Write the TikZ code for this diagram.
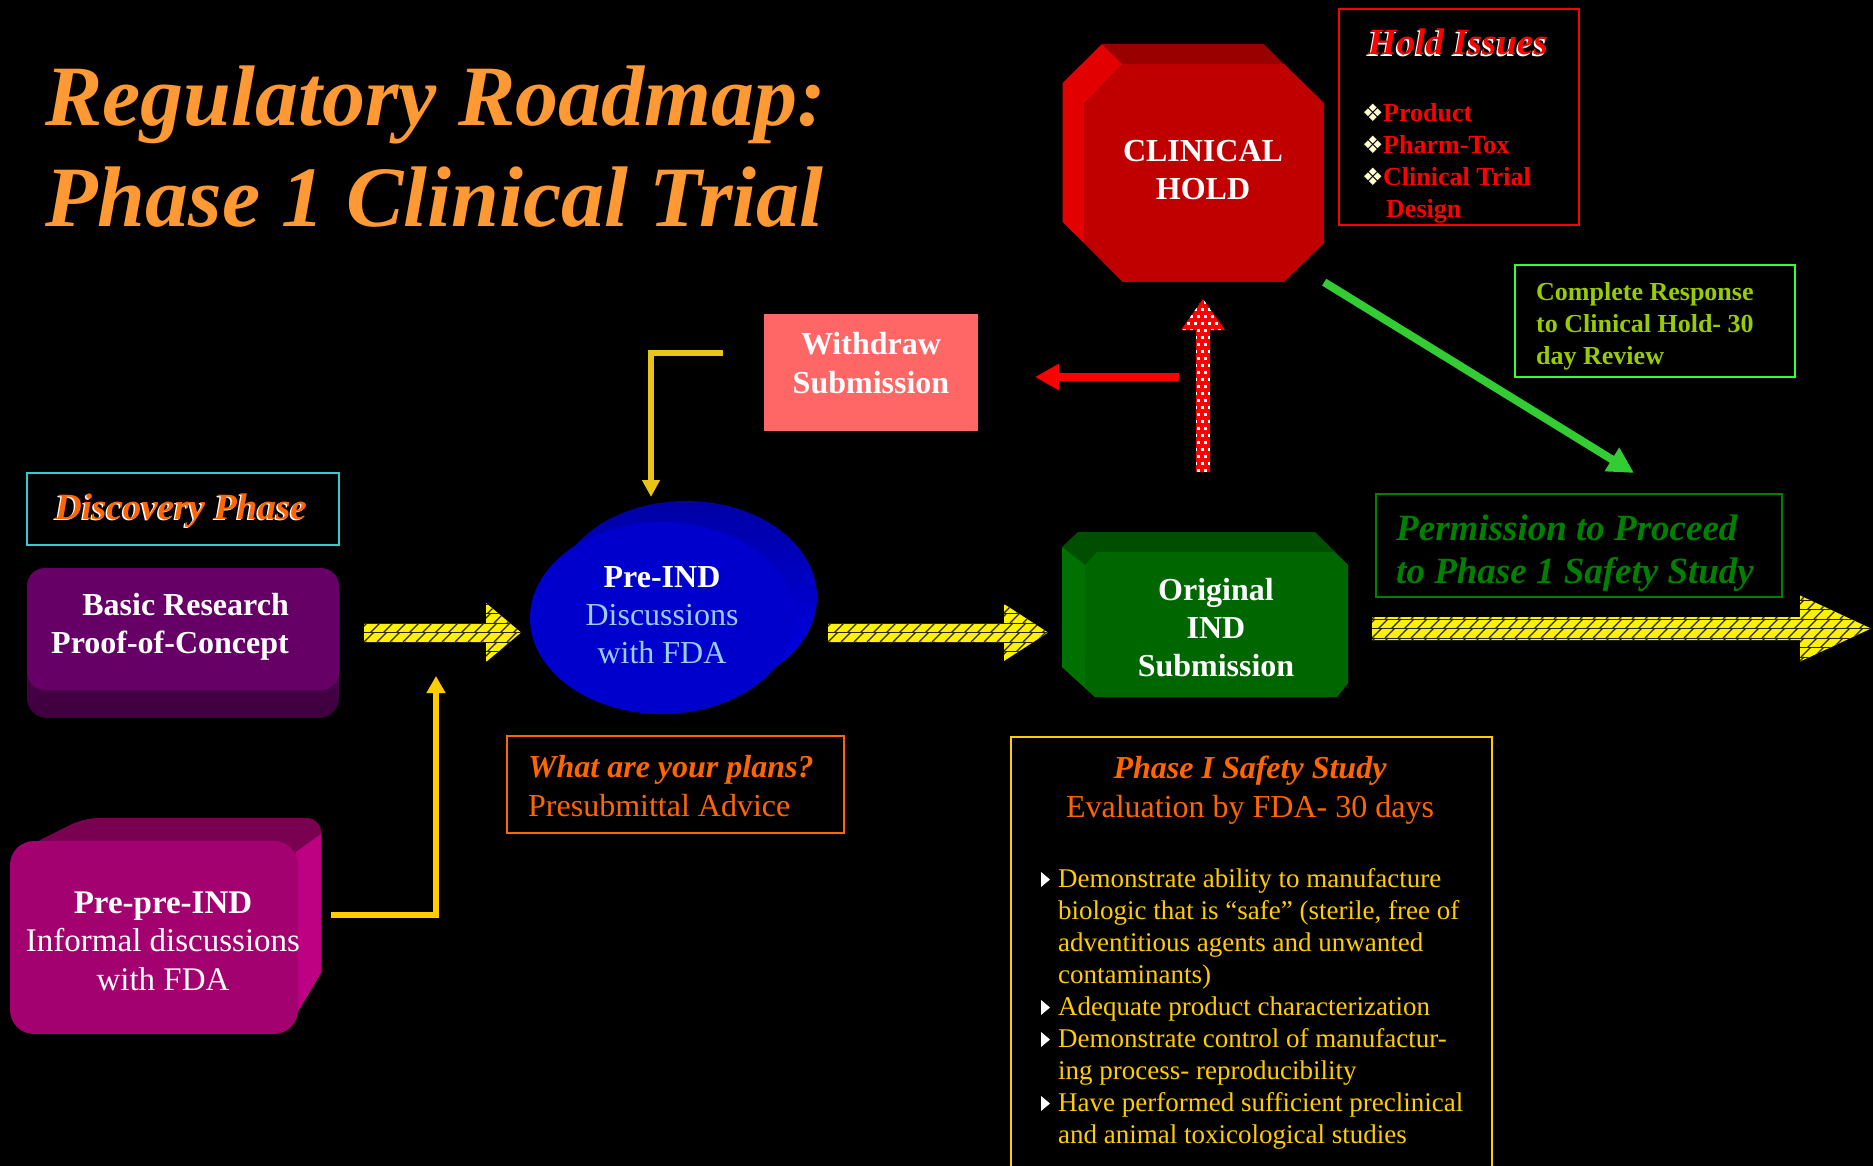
\documentclass[tikz,border=0pt]{standalone}
\usepackage{fontspec}
\setmainfont{Liberation Serif}
\newfontfamily\dejavu{DejaVu Sans}
\usetikzlibrary{arrows.meta,calc}

\definecolor{titleorange}{RGB}{255,153,51}
\definecolor{hotorange}{RGB}{255,102,0}
\definecolor{gold}{RGB}{255,204,0}
\definecolor{goldline}{RGB}{232,196,24}
\definecolor{cyanbox}{RGB}{51,204,204}
\definecolor{purpleface}{RGB}{102,0,102}
\definecolor{purpletop}{RGB}{88,0,88}
\definecolor{purplebot}{RGB}{62,0,62}
\definecolor{magface}{RGB}{163,0,112}
\definecolor{magtop}{RGB}{122,0,82}
\definecolor{magside}{RGB}{190,0,130}
\definecolor{redface}{RGB}{192,0,0}
\definecolor{redtop}{RGB}{153,0,0}
\definecolor{redleft}{RGB}{226,0,0}
\definecolor{pinkbox}{RGB}{255,102,102}
\definecolor{lightblue}{RGB}{153,204,255}
\definecolor{blueface}{RGB}{0,0,204}
\definecolor{bluebacktop}{RGB}{0,0,165}
\definecolor{bluebackbot}{RGB}{0,0,235}
\definecolor{greenface}{RGB}{0,102,0}
\definecolor{greentop}{RGB}{0,78,0}
\definecolor{greenleft}{RGB}{0,112,0}
\definecolor{permgreen}{RGB}{0,128,0}
\definecolor{arrowgreen}{RGB}{51,204,51}
\definecolor{boxgreen}{RGB}{51,255,51}
\definecolor{olivetext}{RGB}{153,204,0}
\definecolor{cream}{RGB}{255,255,204}
\definecolor{hatchline}{RGB}{40,40,0}

\newcommand\fs[2]{\fontsize{#1pt}{#2pt}\selectfont}
\newcommand\holdbul{\makebox[21pt][l]{\color{cream}\dejavu\fontsize{24pt}{24pt}\selectfont ❖}}
\newcommand\phind{\hspace*{18pt}}

% hatched fat arrow: #1 start coord, #2 tip coord, #3 half shaft, #4 head length, #5 half head
\newcommand\hatchedarrow[5]{%
  \begin{scope}
    \clip ($(#1)+(0,-#3)$) -- ($(#2)+(-#4,-#3)$) -- ($(#2)+(-#4,-#5)$) -- (#2)
      -- ($(#2)+(-#4,#5)$) -- ($(#2)+(-#4,#3)$) -- ($(#1)+(0,#3)$) -- cycle;
    \fill[yellow] ($(#1)+(-5,-#5-5)$) rectangle ($(#2)+(5,#5+5)$);
    \foreach \j in {-4,...,3}{
      \draw[hatchline, line width=1pt] ($(#1)+(-5,{9.5*\j})$) -- ($(#2)+(5,{9.5*\j})$);
      \foreach \k in {-2,...,40}{
        \draw[hatchline, line width=1.3pt] ($(#1)+({13*\k+6.5*mod(\j,2)},{9.5*(\j+1)})$) -- ++(9.5,-9.5);
      }
    }
  \end{scope}}

\begin{document}
\begin{tikzpicture}[x=1pt,y=-1pt,
  txt/.style={inner sep=0pt, anchor=base},
  txtw/.style={inner sep=0pt, anchor=base west},
  txte/.style={inner sep=0pt, anchor=base east},
  frame/.style={draw=#1, line width=2.5pt, inner sep=0pt},
  holder/.style={inner sep=0pt, draw=none},
  conn/.style={line width=6pt},
  bullettri/.style={fill=white},
]
\fill[black] (0,0) rectangle (1873,1166);
\useasboundingbox (0,0) rectangle (1873,1166);

% ---------- Title
\node[txtw, text=titleorange, font=\fs{86}{100}\bfseries\itshape] (title1) at (45,126) {Regulatory Roadmap:};
\node[txtw, text=titleorange, font=\fs{86}{100}\bfseries\itshape] (title2) at (45,227) {Phase 1 Clinical Trial};

% ---------- Hold issues
\node[frame=red, minimum width=240pt, minimum height=216pt] (holdbox) at (1459,117) {};
\node[txt, text=white, font=\fs{37}{40}\bfseries\itshape] (holdshadow) at (1456.5,56.5) {Hold Issues};
\node[txt, text=red, font=\fs{37}{40}\bfseries\itshape] (holdtitle) at (1458,55) {Hold Issues};
\node[txtw, text=red, font=\fs{26}{32}\bfseries] (holdlist) at (1362,122)
  {\begin{tabular}[t]{@{}l@{}}\holdbul Product\\ \holdbul Pharm-Tox\\ \holdbul Clinical Trial\\ \hspace*{24pt}Design\end{tabular}};

% ---------- Clinical hold octagon
\fill[redleft] (1062.5,83) -- (1102,44) -- (1122.5,64) -- (1084,104) -- (1084,243) -- (1062.5,222) -- cycle;
\fill[redtop] (1102,44) -- (1263.6,44) -- (1284,64) -- (1122.5,64) -- cycle;
\fill[redface] (1122.5,64) -- (1284,64) -- (1324,103) -- (1324,243) -- (1284,282) -- (1122.5,282) -- (1084,243) -- (1084,104) -- cycle;
\node[holder, minimum width=240pt, minimum height=218pt] (hold) at (1204,173) {};
\node[txt, text=white, font=\fs{32}{38}\bfseries] (holdtext) at (1203,162)
  {\begin{tabular}[t]{@{}c@{}}CLINICAL\\HOLD\end{tabular}};

% ---------- Complete response
\node[frame=boxgreen, minimum width=280pt, minimum height=112pt] (compbox) at (1655,321) {};
\node[txtw, text=olivetext, font=\fs{26}{31.5}\bfseries] (comptext) at (1536,301)
  {\begin{tabular}[t]{@{}l@{}}Complete Response\\to Clinical Hold- 30\\day Review\end{tabular}};

% ---------- Withdraw
\node[holder, fill=pinkbox, minimum width=214pt, minimum height=117pt] (withdraw) at (871,372.5) {};
\node[txt, text=white, font=\fs{32}{39}\bfseries] (withdrawtext) at (871,354)
  {\begin{tabular}[t]{@{}c@{}}Withdraw\\Submission\end{tabular}};

% ---------- Pre-IND ellipse
\shade[top color=bluebacktop, bottom color=bluebackbot] (686,597) ellipse [x radius=131, y radius=96];
\fill[blueface] (662,618) ellipse [x radius=132, y radius=96];
\node[holder, minimum width=264pt, minimum height=192pt] (preind) at (662,618) {};
\node[txt, text=white, font=\fs{32}{38}] (preindtext) at (662,587)
  {\begin{tabular}[t]{@{}c@{}}\textbf{Pre-IND}\\\color{lightblue}Discussions\\\color{lightblue}with FDA\end{tabular}};

% ---------- What are your plans
\node[frame=hotorange, minimum width=337pt, minimum height=97pt] (plansbox) at (675.5,784.5) {};
\node[txtw, text=hotorange, font=\fs{32}{39}] (planstext) at (528,777)
  {\begin{tabular}[t]{@{}l@{}}\textbf{\itshape What are your plans?}\\Presubmittal Advice\end{tabular}};

% ---------- Discovery phase
\node[frame=cyanbox, minimum width=312pt, minimum height=72pt] (discbox) at (183,509) {};
\node[txt, text=white, font=\fs{37}{40}\bfseries\itshape] (discshadow) at (179.5,520.5) {Discovery Phase};
\node[txt, text=hotorange, font=\fs{37}{40}\bfseries\itshape] (disctext) at (181,519) {Discovery Phase};

% ---------- Basic research box
\shade[top color=purpletop, bottom color=purplebot, rounded corners=20pt] (27,590) rectangle (339,718);
\fill[purpleface, rounded corners=18pt] (27,568) rectangle (339,690);
\node[holder, minimum width=312pt, minimum height=150pt] (basic) at (183,643) {};
\node[txte, text=white, font=\fs{32}{38}\bfseries] (basictext) at (289,615)
  {\begin{tabular}[t]{@{}r@{}}Basic Research\\Proof-of-Concept\end{tabular}};

% ---------- Pre-pre-IND box
\fill[magtop, rounded corners=14pt] (30,845) -- (84,818) -- (321,818) -- (321,973) -- (296,1015) -- (296,845) -- cycle;
\fill[magside] (296,852) -- (321,834) -- (321,973) -- (296,1015) -- cycle;
\fill[magface, rounded corners=24pt] (10,841) rectangle (298,1034);
\node[holder, minimum width=311pt, minimum height=216pt] (prepre) at (165,926) {};
\node[txt, text=white, font=\fs{33}{38.5}] (prepretext) at (163,913)
  {\begin{tabular}[t]{@{}c@{}}\textbf{Pre-pre-IND}\\Informal discussions\\with FDA\end{tabular}};

% ---------- Original IND submission
\fill[greentop] (1062,547) -- (1078,532) -- (1315,532) -- (1348,565) -- (1348,683) -- (1337,697) -- (1095,697) -- (1062,667) -- cycle;
\fill[greenleft] (1062,547) -- (1085,565) -- (1085,685) -- (1095,697) -- (1062,667) -- cycle;
\fill[greenface] (1085,565) -- (1097,552) -- (1334,552) -- (1348,565) -- (1348,683) -- (1337,697) -- (1095,697) -- (1085,685) -- cycle;
\node[holder, minimum width=286pt, minimum height=165pt] (orig) at (1205,615) {};
\node[txt, text=white, font=\fs{32}{38}\bfseries] (origtext) at (1216,600)
  {\begin{tabular}[t]{@{}c@{}}Original\\IND\\Submission\end{tabular}};

% ---------- Permission to proceed
\node[frame=permgreen, minimum width=406pt, minimum height=103pt] (permbox) at (1579,545.5) {};
\node[txtw, text=permgreen, font=\fs{37}{43}\bfseries\itshape] (permtext) at (1396,540)
  {\begin{tabular}[t]{@{}l@{}}Permission to Proceed\\to Phase 1 Safety Study\end{tabular}};

% ---------- Phase I safety study
\coordinate (phbl) at (1011,1172);
\coordinate (phbr) at (1492,1172);
\draw[gold, line width=2.5pt] (phbl) -- (1011,737) -- (1492,737) -- (phbr);
\node[txt, text=hotorange, font=\fs{32}{38}\bfseries\itshape] (phasetitle) at (1250,778) {Phase I Safety Study};
\node[txt, text=hotorange, font=\fs{32}{38}] (phasesub) at (1250,817) {Evaluation by FDA- 30 days};
\node[txtw, text=gold, font=\fs{27}{32}] (phaselist) at (1040,887)
  {\begin{tabular}[t]{@{}l@{}}
  \phind Demonstrate ability to manufacture\\
  \phind biologic that is “safe” (sterile, free of\\
  \phind adventitious agents and unwanted\\
  \phind contaminants)\\
  \phind Adequate product characterization\\
  \phind Demonstrate control of manufactur-\\
  \phind ing process- reproducibility\\
  \phind Have performed sufficient preclinical\\
  \phind and animal toxicological studies
  \end{tabular}};
\foreach \bl in {887,1015,1047,1111}{
  \fill[bullettri] (1041,\bl-15) -- (1050,\bl-7.5) -- (1041,\bl) -- cycle;
}

% ---------- Connectors
% yellow hatched arrows
\coordinate (a1s) at (364,632.5); \coordinate (a1e) at (521,632.5);
\hatchedarrow{a1s}{a1e}{9.5}{35}{29.5}
\coordinate (a2s) at (828,632.5); \coordinate (a2e) at (1048,632.5);
\hatchedarrow{a2s}{a2e}{9.5}{44}{28.5}
\coordinate (a3s) at (1372,628.5); \coordinate (a3e) at (1871,628.5);
\hatchedarrow{a3s}{a3e}{11.5}{71}{33}

% gold connectors
\coordinate (g1s) at (723,353); \coordinate (g1e) at (651,497);
\draw[goldline, conn, -{Triangle[length=17pt,width=17pt]}] (g1s) -- (g1s -| g1e) -- (g1e);
\coordinate (g2s) at (331,915); \coordinate (g2e) at (436,676);
\draw[gold, conn, -{Triangle[length=17pt,width=18pt]}] (g2s) -- (g2s -| g2e) -- (g2e);

% green arrow
\coordinate (gtip) at (1634,473);
\draw[arrowgreen, line width=8pt, -{Triangle[length=26pt,width=26pt]}] (hold.south east) -- (gtip);

% red arrow
\coordinate (rs) at (1179,377); \coordinate (re) at (1035,377);
\draw[red, line width=8pt, -{Triangle[length=24pt,width=25pt]}] (rs) -- (re);

% red dotted arrow
\coordinate (ds) at (1203,472); \coordinate (de) at (1203,299);
\begin{scope}
  \clip ($(ds)+(-7,0)$) -- ($(de)+(-7,31)$) -- ($(de)+(-22,31)$) -- (de) -- ($(de)+(22,31)$) -- ($(de)+(7,31)$) -- ($(ds)+(7,0)$) -- cycle;
  \fill[red] ($(de)+(-25,-2)$) rectangle ($(ds)+(25,2)$);
  \foreach \j in {0,...,25}{
    \foreach \k in {-4,...,3}{
      \fill[white] ($(de)+({7*\k+3.5*mod(\j,2)+1},{7*\j+2})$) rectangle ++(3,3);
    }
  }
\end{scope}
\end{tikzpicture}
\end{document}
